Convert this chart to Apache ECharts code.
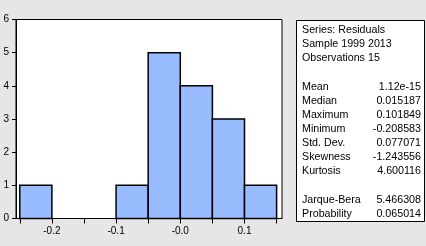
<!DOCTYPE html>
<html>
<head>
<meta charset="utf-8">
<script src="https://cdn.jsdelivr.net/npm/echarts@6/dist/echarts.min.js"></script>
<style>
html,body{margin:0;padding:0;background:#e6e6e6;}
#c{width:426px;height:246px;}
</style>
</head>
<body>
<div id="c"></div>
<script>
// Histogram data
var binStarts = [-0.25, -0.2, -0.15, -0.1, -0.05, 0.0, 0.05, 0.1];
var binWidth = 0.05;
var counts = [1, 0, 0, 1, 5, 4, 3, 1];
var xTickValues = [-0.25, -0.2, -0.15, -0.1, -0.05, 0.0, 0.05, 0.1, 0.15];
var xLabelValues = [-0.2, -0.1, 0.0, 0.1];
var yTickLabels = [0, 1, 2, 3, 4, 5, 6];

// Stats panel text
var headerLines = ['Series: Residuals', 'Sample 1999 2013', 'Observations 15'];
var statNames = ['Mean', 'Median', 'Maximum', 'Minimum', 'Std. Dev.', 'Skewness', 'Kurtosis'];
var statValues = ['1.12e-15', '0.015187', '0.101849', '-0.208583', '0.077071', '-1.243556', '4.600116'];
var testNames = ['Jarque-Bera', 'Probability'];
var testValues = ['5.466308', '0.065014'];

var FONT = 'Arial, "Liberation Sans", sans-serif';
var histData = binStarts.map(function (s, i) { return [s, s + binWidth, counts[i]]; });

var graphics = [];
graphics.push({
  type: 'rect', shape: { x: 296.5, y: 20.5, width: 128, height: 201 },
  style: { fill: '#fff', stroke: '#000', lineWidth: 1 }, z: 10
});
var lineStep = 14.15, y0 = 30, lx = 302, rx = 421;
function addText(t, x, y, align) {
  graphics.push({ type: 'text', x: x, y: y, z: 11,
    style: { text: t, fill: '#000', font: '10.7px ' + FONT, align: align, verticalAlign: 'middle' } });
}
headerLines.forEach(function (t, i) { addText(t, lx, y0 + i * lineStep, 'left'); });
statNames.forEach(function (t, i) {
  var y = y0 + (4 + i) * lineStep;
  addText(t, lx, y, 'left'); addText(statValues[i], rx, y, 'right');
});
testNames.forEach(function (t, i) {
  var y = y0 + (12 + i) * lineStep;
  addText(t, lx, y, 'left'); addText(testValues[i], rx, y, 'right');
});

var chart = echarts.init(document.getElementById('c'), null, { renderer: 'canvas' });
chart.setOption({
  animation: false,
  backgroundColor: '#e6e6e6',
  grid: { left: 16, right: 144, top: 19.5, bottom: 27.5, show: true, backgroundColor: '#fff', borderColor: '#000', borderWidth: 1 },
  xAxis: {
    type: 'value', min: -0.2559, max: 0.1584,
    axisLine: { show: true, onZero: false, lineStyle: { color: '#000', width: 1 } },
    axisTick: { show: true, length: 5, customValues: xTickValues, lineStyle: { color: '#000', width: 1 } },
    axisLabel: { customValues: xLabelValues, margin: 8, color: '#000', fontSize: 10, fontFamily: FONT,
      formatter: function (v) { return Math.abs(v) < 1e-9 ? '-0.0' : v.toFixed(1); } },
    splitLine: { show: false }
  },
  yAxis: {
    type: 'value', min: 0, max: 6, interval: 1,
    axisLine: { show: true, onZero: false, lineStyle: { color: '#000', width: 1 } },
    axisTick: { show: true, length: 4, lineStyle: { color: '#000', width: 1 } },
    axisLabel: { margin: 7, color: '#000', fontSize: 10, fontFamily: FONT,
      formatter: function (v) { return yTickLabels.indexOf(v) >= 0 ? String(v) : ''; } },
    splitLine: { show: false }
  },
  series: [{
    type: 'custom',
    data: histData,
    renderItem: function (params, api) {
      var c = api.value(2);
      if (!c) return null;
      var p1 = api.coord([api.value(0), c]);
      var p2 = api.coord([api.value(1), 0]);
      return {
        type: 'rect',
        shape: { x: p1[0], y: p1[1], width: p2[0] - p1[0], height: p2[1] - p1[1] },
        style: { fill: '#99bbff', stroke: '#000', lineWidth: 1.5 }
      };
    }
  }],
  graphic: graphics
});
</script>
</body>
</html>
